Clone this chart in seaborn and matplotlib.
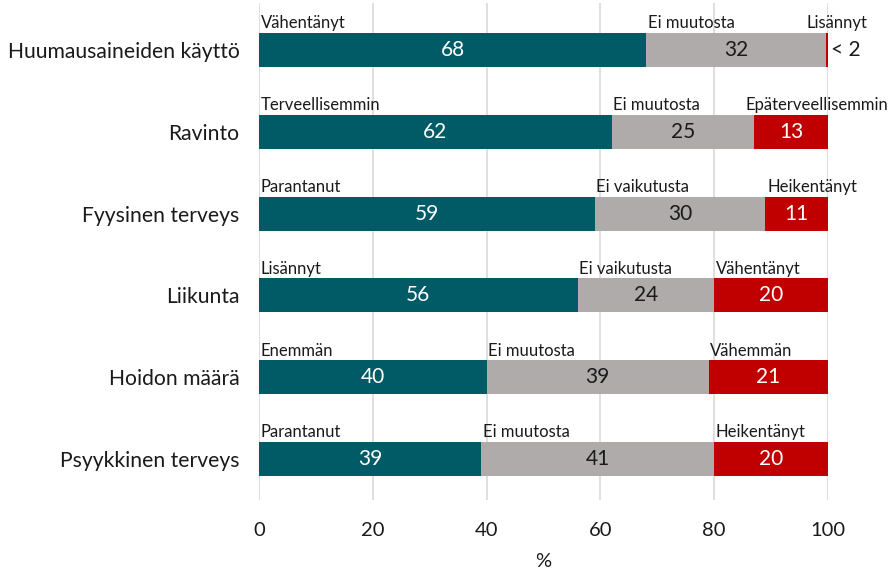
import matplotlib
matplotlib.use("Agg")
import matplotlib.pyplot as plt
import seaborn as sns
import numpy as np
import pandas as pd

categories = ["Huumausaineiden käyttö", "Ravinto", "Fyysinen terveys",
              "Liikunta", "Hoidon määrä", "Psyykkinen terveys"]
positive = [68, 62, 59, 56, 40, 39]
neutral = [31.7, 25, 30, 24, 39, 41]
negative = [0.3, 13, 11, 20, 21, 20]
value_labels = [["68", "32", "< 2"], ["62", "25", "13"], ["59", "30", "11"],
                ["56", "24", "20"], ["40", "39", "21"], ["39", "41", "20"]]
segment_names = [["Vähentänyt", "Ei muutosta", "Lisännyt"],
                 ["Terveellisemmin", "Ei muutosta", "Epäterveellisemmin"],
                 ["Parantanut", "Ei vaikutusta", "Heikentänyt"],
                 ["Lisännyt", "Ei vaikutusta", "Vähentänyt"],
                 ["Enemmän", "Ei muutosta", "Vähemmän"],
                 ["Parantanut", "Ei muutosta", "Heikentänyt"]]
xticks = [0, 20, 40, 60, 80, 100]
xlabel = "%"

teal = "#005B67"
grey = "#AFABAB"
red = "#C00000"

sns.set_theme(style="white")
plt.rcParams['font.family'] = ['Lato', 'DejaVu Sans']

fig = plt.figure(figsize=(8.94, 5.70), dpi=100)
ax = fig.add_axes([259/894, 1-500/570, (828-259)/894, 497/570])

df = pd.DataFrame({"cat": categories, "pos": positive, "neu": neutral, "neg": negative})
df["c2"] = df["pos"] + df["neu"]
df["c3"] = df["c2"] + df["neg"]
bw = 0.415
sns.barplot(data=df, x="c3", y="cat", color=red, orient="h", width=bw, saturation=1, ax=ax, zorder=3)
sns.barplot(data=df, x="c2", y="cat", color=grey, orient="h", width=bw, saturation=1, ax=ax, zorder=3)
sns.barplot(data=df, x="pos", y="cat", color=teal, orient="h", width=bw, saturation=1, ax=ax, zorder=3)
for p in ax.patches:
    p.set_edgecolor("none")

txt = "#1a1a1a"
ax.set_xlim(0, 100)
ax.set_ylim(5.5, -0.575)
ax.set_xticks(xticks)
ax.set_xticklabels([str(t) for t in xticks], fontsize=14.5, color=txt)
ax.tick_params(axis="x", length=0, pad=16)
ax.tick_params(axis="y", length=0, pad=14)
ax.set_yticks(range(len(categories)))
ax.set_yticklabels(categories, fontsize=15.2, color=txt)
ax.set_ylabel("")
ax.set_xlabel(xlabel, fontsize=14.5, color=txt, labelpad=10)
for s in ax.spines.values():
    s.set_visible(False)
ax.grid(axis="x", color="#d9d9d9", linewidth=1.2, zorder=0)
ax.set_axisbelow(True)

for i in range(len(categories)):
    starts = [0, positive[i], positive[i] + neutral[i]]
    widths = [positive[i], neutral[i], negative[i]]
    cols = ["white", txt, "white"]
    for j in range(3):
        lab = value_labels[i][j]
        if widths[j] < 2:
            ax.text(starts[j] + widths[j] + 0.6, i, lab, ha="left", va="center",
                    fontsize=15, color=txt, zorder=5)
        else:
            ax.text(starts[j] + widths[j] / 2, i, lab, ha="center", va="center",
                    fontsize=15, color=cols[j], zorder=5)
        name = segment_names[i][j]
        x = starts[j] + 0.3
        ha = "left"
        if j == 2 and widths[j] < 2:
            x = starts[j] + widths[j] + 1.5
            ha = "center"
        elif j == 2 and len(name) > 14:
            x = starts[j] - 1.5
        ax.text(x, i - bw / 2 - 0.02, name, ha=ha, va="bottom", fontsize=12,
                color=txt, zorder=5, clip_on=False)

fig.savefig("out.png", dpi=100)
